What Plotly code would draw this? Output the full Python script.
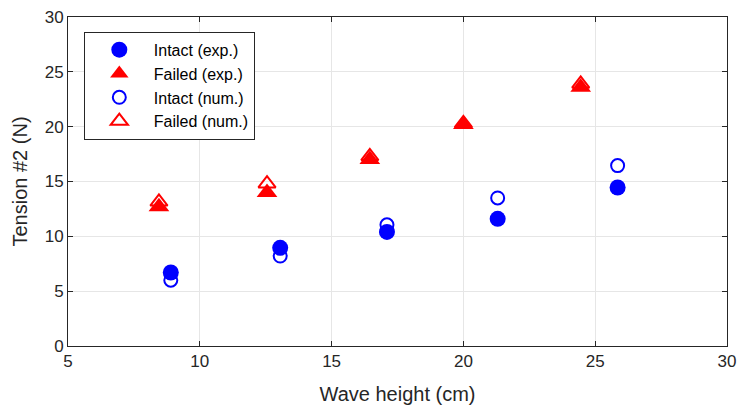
import plotly.graph_objects as go

intact_x = [8.9, 13.05, 17.1, 21.3, 25.85]
intact_exp = [6.7, 8.95, 10.4, 11.6, 14.45]
intact_num = [6.0, 8.2, 11.05, 13.5, 16.45]
failed_x = [8.45, 12.55, 16.45, 20.0, 24.45]
failed_exp = [12.7, 14.0, 17.0, 20.2, 23.6]
failed_num = [13.15, 14.8, 17.3, 20.3, 23.9]

fig = go.Figure()
fig.add_trace(go.Scatter(x=intact_x, y=intact_exp, mode="markers", name="Intact (exp.)",
                         marker=dict(symbol="circle", size=16, color="#0000ff", line=dict(width=0))))
fig.add_trace(go.Scatter(x=failed_x, y=failed_exp, mode="markers", name="Failed (exp.)",
                         marker=dict(symbol="triangle-up", size=18, color="#ff0000", line=dict(width=0))))
fig.add_trace(go.Scatter(x=intact_x, y=intact_num, mode="markers", name="Intact (num.)",
                         marker=dict(symbol="circle-open", size=13, color="#0000ff", line=dict(width=2))))
fig.add_trace(go.Scatter(x=failed_x, y=failed_num, mode="markers", name="Failed (num.)",
                         marker=dict(symbol="triangle-up-open", size=15, color="#ff0000", line=dict(width=2))))

axis_common = dict(showline=True, linecolor="#262626", linewidth=1, mirror="ticks",
                   ticks="inside", ticklen=5, tickcolor="#262626", automargin=False,
                   showgrid=True, gridcolor="#e6e6e6", gridwidth=1, zeroline=False,
                   tickfont=dict(family="Liberation Sans, Arial", size=17, color="#262626"))

fig.update_layout(
    width=737, height=405,
    margin=dict(l=68, r=10, t=17, b=59),
    paper_bgcolor="white", plot_bgcolor="white",
    font=dict(family="Liberation Sans, Arial", color="#262626"),
    xaxis=dict(range=[5, 30], dtick=5, ticklabeloverflow="allow",
               title=dict(text="Wave height (cm)", font=dict(size=20), standoff=17), **axis_common),
    yaxis=dict(range=[0, 30], dtick=5,
               title=dict(text="Tension #2 (N)", font=dict(size=20), standoff=11), **axis_common),
    legend=dict(x=0.024, y=0.955, xanchor="left", yanchor="top",
                bgcolor="white", bordercolor="#262626", borderwidth=1,
                font=dict(size=16, color="#000000"), itemsizing="trace",
                tracegroupgap=0, itemwidth=59),
    showlegend=True,
)

fig.write_html("out.html")
